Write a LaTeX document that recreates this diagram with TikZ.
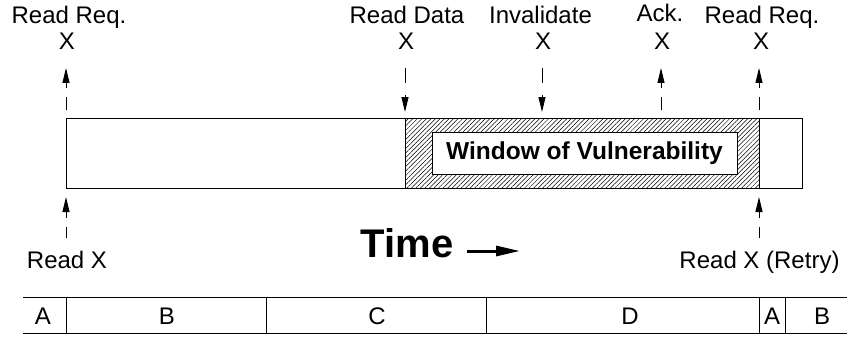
\documentclass[tikz,border=0pt]{standalone}
\usepackage{fontspec}
\setmainfont{Liberation Sans}
\usetikzlibrary{arrows.meta,patterns.meta}
\begin{document}
\begin{tikzpicture}[x=1pt,y=-1pt,
  lbl/.style={inner sep=0pt,anchor=base,font=\fontsize{24}{28}\selectfont},
  boxline/.style={line width=1pt},
  uparr/.style={line width=1pt,dash pattern=on 13pt off 9pt,-{Triangle[length=15pt,width=7pt]}},
  downarr/.style={line width=1pt,dash pattern=on 15pt off 12pt,-{Triangle[length=15pt,width=7pt]}},
  botarr/.style={line width=1pt,dash pattern=on 11pt off 9pt,-{Triangle[length=15pt,width=7pt]}},
  barline/.style={line width=0.9pt}]
\useasboundingbox (0,0) rectangle (849,337);
% main box
\draw[boxline] (66,118) rectangle (802,188);
\fill[pattern={Lines[angle=45,distance=3.2pt,line width=0.5pt]}] (405,118) rectangle (759,188);
\draw[boxline] (405,118) rectangle (759,188);
\draw[boxline,fill=white] (432,132) rectangle (737,174);
\node[inner sep=0pt,font=\bfseries\fontsize{24.5}{28}\selectfont] (wov) at (584.5,153) {Window of Vulnerability};
% top labels
\node[lbl] (l1) at (69,24) {Read Req.};
\node[lbl] (x1) at (67,50) {X};
\node[lbl] (l2) at (407,24) {Read Data};
\node[lbl] (x2) at (406,50) {X};
\node[lbl] (l3) at (540.5,24) {Invalidate};
\node[lbl] (x3) at (543,50) {X};
\node[lbl] (l4) at (660,22) {Ack.};
\node[lbl] (x4) at (662,50) {X};
\node[lbl] (l5) at (762,24) {Read Req.};
\node[lbl] (x5) at (761,50) {X};
% top arrows
\coordinate (a1s) at (66,110); \coordinate (a1e) at (66,68);
\coordinate (a2s) at (405,68); \coordinate (a2e) at (405,112);
\coordinate (a3s) at (542,68); \coordinate (a3e) at (542,112);
\coordinate (a4s) at (661,110); \coordinate (a4e) at (661,68);
\coordinate (a5s) at (759,110); \coordinate (a5e) at (759,68);
\draw[uparr] (a1s) -- (a1e);
\draw[downarr] (a2s) -- (a2e);
\draw[downarr] (a3s) -- (a3e);
\draw[uparr] (a4s) -- (a4e);
\draw[uparr] (a5s) -- (a5e);
% bottom arrows
\coordinate (b1s) at (66,238); \coordinate (b1e) at (66,197);
\coordinate (b2s) at (759,238); \coordinate (b2e) at (759,197);
\draw[botarr] (b1s) -- (b1e);
\draw[botarr] (b2s) -- (b2e);
\node[lbl] (rx) at (67,268) {Read X};
\node[lbl] (rxr) at (759.5,268) {Read X (Retry)};
% Time
\node[inner sep=0pt,anchor=base,font=\bfseries\fontsize{40}{44}\selectfont] (time) at (407,257) {Time};
\coordinate (ts) at (467,251); \coordinate (te) at (520,251);
\draw[line width=3pt,-{Triangle[length=24pt,width=10pt]}] (ts) -- (te);
% bottom bar
\draw[barline] (23,297) -- (847,297);
\draw[barline] (23,333) -- (847,333);
\foreach \xx in {66,266,486,759,785} \draw[barline] (\xx,297) -- (\xx,333);
\node[lbl] (pa1) at (43,324) {A};
\node[lbl] (pb1) at (167,324) {B};
\node[lbl] (pc) at (377,324) {C};
\node[lbl] (pd) at (630,324) {D};
\node[lbl] (pa2) at (772,324) {A};
\node[lbl] (pb2) at (822,324) {B};
\end{tikzpicture}
\end{document}
